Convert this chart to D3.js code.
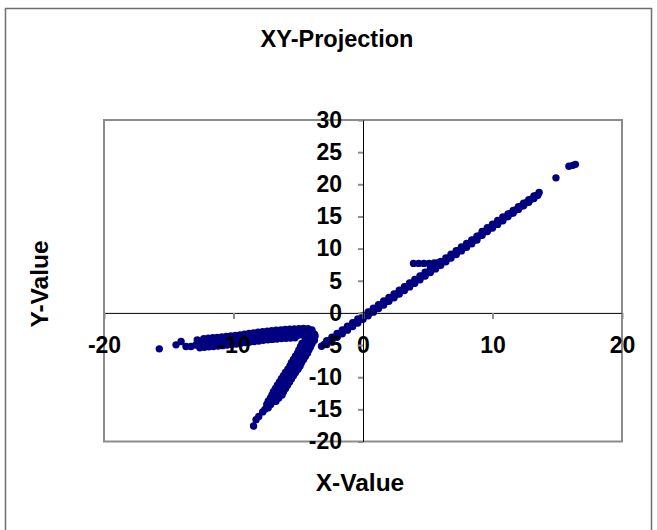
<!DOCTYPE html>
<html><head><meta charset="utf-8">
<script src="https://cdn.jsdelivr.net/npm/d3@7/dist/d3.min.js"></script>
<style>
html,body{margin:0;padding:0;background:#fff;}
text{font-family:"Liberation Sans",Arial,sans-serif;font-weight:bold;fill:#000;}
</style></head><body>
<svg id="chart" width="657" height="530"></svg>
<script>
// ---- data ----
const chartTitle = "XY-Projection";
const xTitle = "X-Value";
const yTitle = "Y-Value";
const xDomain = [-20, 20];
const yDomain = [-20, 30];
const xTickValues = [-20, -10, 0, 10, 20];
const yTickValues = [-20, -15, -10, -5, 0, 5, 10, 15, 20, 25, 30];

// right branch, upper edge of band
const rightBandUpper = [[-2.8,-4.32],[-2.4,-3.76],[-2.0,-3.20],[-1.6,-2.64],[-1.2,-2.08],[-0.8,-1.52],[-0.4,-0.96],[0,-0.40],[0.4,0.16],[0.8,0.72],[1.2,1.28],[1.6,1.84],[2.0,2.40],[2.4,2.96],[2.8,3.52],[3.2,4.08],[3.6,4.64],[4.0,5.20],[4.4,5.76],[4.8,6.32],[5.2,6.88],[5.6,7.44],[6.0,8.00],[6.4,8.56],[6.8,9.12],[7.2,9.68],[7.6,10.24],[8.0,10.80],[8.4,11.36],[8.8,11.92],[9.2,12.68],[9.6,13.24],[10.0,13.80],[10.4,14.36],[10.8,14.92],[11.2,15.38],[11.6,15.94],[12.0,16.50],[12.4,17.06],[12.8,17.62],[13.2,18.18],[13.6,18.74]];
// right branch, middle of band
const rightBandMid = [[-3.0,-4.90],[-2.6,-4.34],[-2.2,-3.78],[-1.8,-3.22],[-1.4,-2.66],[-1.0,-2.10],[-0.6,-1.54],[-0.2,-0.98],[0.2,-0.42],[0.6,0.14],[1.0,0.70],[1.4,1.26],[1.8,1.82],[2.2,2.38],[2.6,2.94],[3.0,3.50],[3.4,4.06],[3.8,4.62],[4.2,5.18],[4.6,5.74],[5.0,6.30],[5.4,6.86],[5.8,7.42],[6.2,7.98],[6.6,8.54],[7.0,9.10],[7.4,9.66],[7.8,10.22],[8.2,10.78],[8.6,11.34],[9.0,12.00],[9.4,12.66],[9.8,13.22],[10.2,13.78],[10.6,14.34],[11.0,14.90],[11.4,15.46],[11.8,16.02],[12.2,16.58],[12.6,17.14],[13.0,17.70],[13.4,18.26]];
// right branch, lower edge of band
const rightBandLower = [[-3.2,-5.18],[-2.8,-4.92],[-2.4,-4.36],[-2.0,-3.80],[-1.6,-3.24],[-1.2,-2.68],[-0.8,-2.12],[-0.4,-1.56],[0,-1.00],[0.4,-0.44],[0.8,0.12],[1.2,0.68],[1.6,1.24],[2.0,1.80],[2.4,2.36],[2.8,2.92],[3.2,3.48],[3.6,4.04],[4.0,4.60],[4.4,5.16],[4.8,5.72],[5.2,6.28],[5.6,6.84],[6.0,7.40],[6.4,7.96],[6.8,8.52],[7.2,9.08],[7.6,9.64],[8.0,10.20],[8.4,10.76],[8.8,11.32],[9.2,12.08],[9.6,12.64],[10.0,13.20],[10.4,13.76],[10.8,14.32],[11.2,14.98],[11.6,15.54],[12.0,16.10],[12.4,16.66],[12.8,17.22],[13.2,17.78],[13.5,18.30]];
// isolated points at the top end
const rightOutliers = [[14.9,21.0],[15.9,22.8],[16.2,22.95],[16.4,23.1]];
// short horizontal shelf
const shelf = [[3.9,7.7],[4.3,7.7],[4.7,7.7],[5.1,7.7],[5.5,7.75],[5.8,7.8]];

// left hook, upper arm (five rows)
const hookUpperTop = [[-12.3,-4.00],[-11.95,-3.93],[-11.6,-3.86],[-11.25,-3.80],[-10.9,-3.74],[-10.55,-3.67],[-10.2,-3.59],[-9.85,-3.51],[-9.5,-3.41],[-9.15,-3.31],[-8.8,-3.20],[-8.45,-3.10],[-8.1,-3.02],[-7.75,-2.94],[-7.4,-2.85],[-7.05,-2.77],[-6.7,-2.70],[-6.35,-2.64],[-6.0,-2.58],[-5.65,-2.54],[-5.3,-2.50],[-4.95,-2.45],[-4.6,-2.41],[-4.25,-2.45],[-3.95,-2.65]];
const hookUpperHigh = [[-12.35,-4.32],[-12.0,-4.25],[-11.65,-4.18],[-11.3,-4.12],[-10.95,-4.06],[-10.6,-3.98],[-10.25,-3.90],[-9.9,-3.81],[-9.55,-3.71],[-9.2,-3.61],[-8.85,-3.50],[-8.5,-3.41],[-8.15,-3.33],[-7.8,-3.25],[-7.45,-3.16],[-7.1,-3.09],[-6.75,-3.02],[-6.4,-2.96],[-6.05,-2.91],[-5.7,-2.87],[-5.35,-2.83],[-5.0,-2.78],[-4.65,-2.75],[-4.3,-2.76],[-3.95,-2.90]];
const hookUpperMid = [[-12.5,-4.70],[-12.15,-4.63],[-11.8,-4.56],[-11.45,-4.50],[-11.1,-4.44],[-10.75,-4.37],[-10.4,-4.29],[-10.05,-4.21],[-9.7,-4.11],[-9.35,-4.01],[-9.0,-3.90],[-8.65,-3.80],[-8.3,-3.72],[-7.95,-3.64],[-7.6,-3.55],[-7.25,-3.47],[-6.9,-3.40],[-6.55,-3.34],[-6.2,-3.28],[-5.85,-3.24],[-5.5,-3.20],[-5.15,-3.15],[-4.8,-3.11],[-4.45,-3.10],[-4.1,-3.12],[-3.75,-3.30]];
const hookUpperLow = [[-12.35,-5.02],[-12.0,-4.95],[-11.65,-4.88],[-11.3,-4.82],[-10.95,-4.76],[-10.6,-4.68],[-10.25,-4.60],[-9.9,-4.51],[-9.55,-4.41],[-9.2,-4.31],[-8.85,-4.20],[-8.5,-4.11],[-8.15,-4.03],[-7.8,-3.95],[-7.45,-3.86],[-7.1,-3.79],[-6.75,-3.72],[-6.4,-3.66],[-6.05,-3.61],[-5.7,-3.57],[-5.35,-3.53],[-5.0,-3.48],[-4.65,-3.45],[-4.3,-3.46],[-3.95,-3.60]];
const hookUpperBottom = [[-12.6,-5.42],[-12.25,-5.35],[-11.9,-5.28],[-11.55,-5.22],[-11.2,-5.16],[-10.85,-5.09],[-10.5,-5.01],[-10.15,-4.93],[-9.8,-4.83],[-9.45,-4.73],[-9.1,-4.62],[-8.75,-4.52],[-8.4,-4.44],[-8.05,-4.36],[-7.7,-4.27],[-7.35,-4.19],[-7.0,-4.12],[-6.65,-4.06],[-6.3,-4.00],[-5.95,-3.96],[-5.6,-3.92],[-5.25,-3.87]];
// left hook, lower arm (five rows)
const hookLowerLeft = [[-4.71,-4.75],[-4.83,-5.25],[-4.95,-5.75],[-5.06,-6.25],[-5.22,-6.75],[-5.37,-7.25],[-5.53,-7.75],[-5.64,-8.25],[-5.80,-8.75],[-5.99,-9.25],[-6.14,-9.75],[-6.30,-10.25],[-6.45,-10.75],[-6.61,-11.25],[-6.76,-11.75],[-6.92,-12.25],[-7.03,-12.75],[-7.15,-13.25],[-7.30,-13.75]];
const hookLowerLeft2 = [[-4.46,-4.25],[-4.58,-4.75],[-4.70,-5.25],[-4.82,-5.75],[-4.95,-6.25],[-5.11,-6.75],[-5.26,-7.25],[-5.40,-7.75],[-5.53,-8.25],[-5.71,-8.75],[-5.88,-9.25],[-6.03,-9.75],[-6.19,-10.25],[-6.34,-10.75],[-6.50,-11.25],[-6.65,-11.75],[-6.79,-12.25],[-6.94,-12.75],[-7.13,-13.25],[-7.31,-13.75],[-7.43,-14.25]];
const hookLowerMid = [[-4.20,-4.0],[-4.32,-4.5],[-4.44,-5.0],[-4.56,-5.5],[-4.67,-6.0],[-4.83,-6.5],[-4.98,-7.0],[-5.14,-7.5],[-5.25,-8.0],[-5.41,-8.5],[-5.60,-9.0],[-5.75,-9.5],[-5.91,-10.0],[-6.06,-10.5],[-6.22,-11.0],[-6.37,-11.5],[-6.53,-12.0],[-6.64,-12.5],[-6.83,-13.0],[-7.03,-13.5],[-7.18,-14.0],[-7.37,-14.5],[-7.57,-15.0]];
const hookLowerRight2 = [[-4.06,-4.25],[-4.18,-4.75],[-4.30,-5.25],[-4.42,-5.75],[-4.55,-6.25],[-4.71,-6.75],[-4.86,-7.25],[-5.00,-7.75],[-5.13,-8.25],[-5.31,-8.75],[-5.48,-9.25],[-5.63,-9.75],[-5.79,-10.25],[-5.94,-10.75],[-6.10,-11.25],[-6.25,-11.75],[-6.39,-12.25],[-6.54,-12.75],[-6.73,-13.25],[-6.91,-13.75],[-7.13,-14.25],[-7.32,-14.75]];
const hookLowerRight = [[-3.70,-3.6],[-3.75,-4.25],[-3.93,-4.75],[-4.05,-5.25],[-4.17,-5.75],[-4.28,-6.25],[-4.44,-6.75],[-4.59,-7.25],[-4.75,-7.75],[-4.86,-8.25],[-5.02,-8.75],[-5.21,-9.25],[-5.36,-9.75],[-5.52,-10.25],[-5.67,-10.75],[-5.83,-11.25],[-5.98,-11.75],[-6.14,-12.25],[-6.25,-12.75],[-6.50,-13.25],[-6.72,-13.75]];
// isolated points at the lower tip and at the far left
const tipDots = [[-7.75,-15.4],[-8.05,-16.1],[-8.26,-16.6],[-8.45,-17.6]];
const leftStragglers = [[-15.73,-5.59],[-14.44,-4.97],[-14.05,-4.45],[-13.67,-5.23],[-13.28,-5.23],[-12.9,-5.0],[-12.8,-4.2]];

const seriesList = [rightBandUpper, rightBandMid, rightBandLower, rightOutliers, shelf,
  hookUpperTop, hookUpperHigh, hookUpperMid, hookUpperLow, hookUpperBottom,
  hookLowerLeft, hookLowerLeft2, hookLowerMid, hookLowerRight2, hookLowerRight,
  tipDots, leftStragglers];

// ---- drawing ----
const svg = d3.select("#chart");
const plot = {left:104, right:622, top:120, bottom:441.5};
const x = d3.scaleLinear().domain(xDomain).range([plot.left, plot.right]);
const y = d3.scaleLinear().domain(yDomain).range([plot.bottom, plot.top]);
const fontStack = '"Liberation Sans",Arial,sans-serif';

// outer frame
svg.append("rect").attr("x",5.5).attr("y",8.5).attr("width",646).attr("height",540)
  .attr("fill","#fff").attr("stroke","#6e6e6e").attr("stroke-width",1.5);

// title
svg.append("text").attr("x",337).attr("y",47).attr("text-anchor","middle")
  .style("font-size","23.5px").text(chartTitle);

// plot area border
svg.append("rect").attr("x",plot.left).attr("y",plot.top)
  .attr("width",plot.right-plot.left).attr("height",plot.bottom-plot.top)
  .attr("fill","none").attr("stroke","#8c8c8c").attr("stroke-width",2);

// points
const allPts = seriesList.flat();
svg.append("g").selectAll("circle").data(allPts).join("circle")
  .attr("cx",d=>x(d[0])).attr("cy",d=>y(d[1])).attr("r",3.7).attr("fill","#000080");

const fmt = d => String(d);   // plain hyphen-minus like the original

// x axis at y=0
const xAxis = svg.append("g").attr("transform",`translate(0,${y(0)})`)
  .call(d3.axisBottom(x).tickValues(xTickValues).tickSize(6).tickPadding(18).tickFormat(fmt).tickSizeOuter(0));
xAxis.select(".domain").attr("stroke","#000").attr("stroke-width",1);
xAxis.selectAll(".tick line").attr("stroke","#8c8c8c").attr("stroke-width",2);
xAxis.selectAll("text").style("font-size","23px").attr("fill","#000").style("font-family",fontStack).style("font-weight","bold");

// y axis at x=0
const yAxis = svg.append("g").attr("transform",`translate(${x(0)},0)`)
  .call(d3.axisLeft(y).tickValues(yTickValues).tickSize(5).tickPadding(16).tickFormat(fmt).tickSizeOuter(0));
yAxis.select(".domain").attr("stroke","#000").attr("stroke-width",1);
yAxis.selectAll(".tick line").attr("stroke","#8c8c8c").attr("stroke-width",2);
yAxis.selectAll("text").style("font-size","23px").attr("fill","#000").style("font-family",fontStack).style("font-weight","bold");

// axis titles
svg.append("text").attr("x",360).attr("y",491).attr("text-anchor","middle")
  .style("font-size","24.5px").text(xTitle);
svg.append("text").attr("transform","translate(48,284) rotate(-90)").attr("text-anchor","middle")
  .style("font-size","24.5px").text(yTitle);
</script>
</body></html>
